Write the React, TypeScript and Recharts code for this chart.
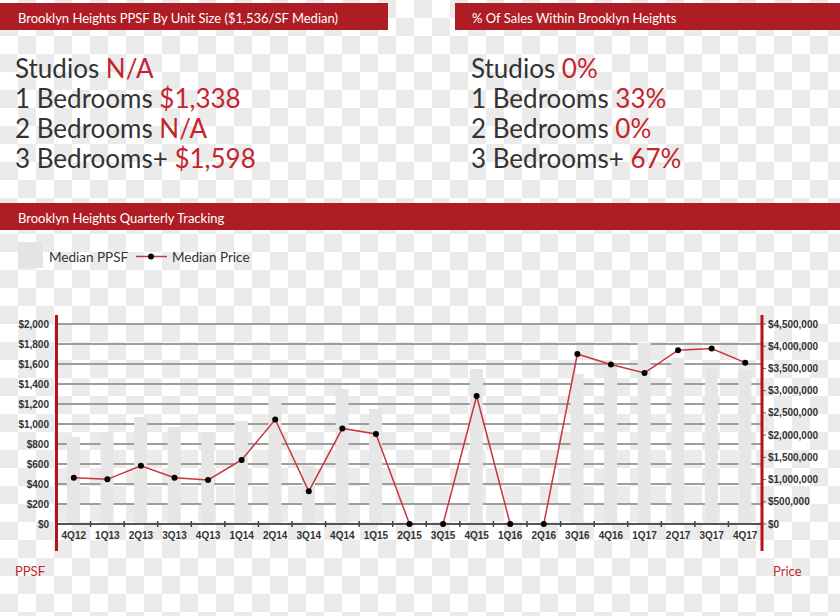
import React from "react";
import {
  ComposedChart,
  Bar,
  Line,
  XAxis,
  YAxis,
  CartesianGrid,
} from "recharts";

const quarters = [
  "4Q12", "1Q13", "2Q13", "3Q13", "4Q13", "1Q14", "2Q14", "3Q14", "4Q14", "1Q15", "2Q15",
  "3Q15", "4Q15", "1Q16", "2Q16", "3Q16", "4Q16", "1Q17", "2Q17", "3Q17", "4Q17",
];
const medianPpsf = [
  870, 920, 1070, 970, 920, 1030, 1270, 580, 1350, 1150, 0,
  0, 1550, 0, 0, 1500, 1590, 1810, 1660, 1570, 1540,
];
const medianPrice = [
  1040000, 1005000, 1310000, 1040000, 990000, 1440000, 2350000, 735000, 2150000, 2025000, 0,
  0, 2880000, 0, 0, 3825000, 3590000, 3400000, 3910000, 3950000, 3630000,
];
const ppsfTicks = [0, 200, 400, 600, 800, 1000, 1200, 1400, 1600, 1800, 2000];
const priceTicks = [0, 500000, 1000000, 1500000, 2000000, 2500000, 3000000, 3500000, 4000000, 4500000];

const unitLabels = ["Studios", "1 Bedrooms", "2 Bedrooms", "3 Bedrooms+"];
const unitPpsf = ["N/A", "$1,338", "N/A", "$1,598"];
const unitShare = ["0%", "33%", "0%", "67%"];

const headerLeft = "Brooklyn Heights PPSF By Unit Size ($1,536/SF Median)";
const headerRight = "% Of Sales Within Brooklyn Heights";
const headerChart = "Brooklyn Heights Quarterly Tracking";

const data = quarters.map((q, i) => ({ q, ppsf: medianPpsf[i], price: medianPrice[i] }));

const RED = "#ae1d24";
const TXT_RED = "#c4252c";
const DARK = "#333333";
const FONT = "Lato, 'Noto Sans', sans-serif";
const TICK_FONT = "'Liberation Sans', Arial, sans-serif";

const PLOT_LEFT = 57;
const PLOT_RIGHT = 762;
const BAND = (PLOT_RIGHT - PLOT_LEFT) / quarters.length;

const money = (v: number) => "$" + v.toLocaleString("en-US");

const XTick = (props: any) => {
  const { x, y, payload, index } = props;
  return (
    <g>
      {index > 0 && (
        <line x1={x - BAND / 2} x2={x - BAND / 2} y1={y - 3} y2={y + 3} stroke="#444" strokeWidth={1.5} />
      )}
      <text
        x={x}
        y={y + 15}
        textAnchor="middle"
        fontFamily={TICK_FONT}
        fontWeight="bold"
        fontSize={10}
        fill="#333"
      >
        {payload.value}
      </text>
    </g>
  );
};

export default function App() {
  return (
    <div
      style={{
        position: "absolute",
        left: 0,
        top: 0,
        width: 840,
        height: 616,
        overflow: "hidden",
        backgroundColor: "#ffffff",
        backgroundImage: "repeating-conic-gradient(#ebebeb 0 25%, #ffffff 0 50%)",
        backgroundSize: "36px 36px",
      }}
    >
      <svg width={840} height={616} style={{ position: "absolute", left: 0, top: 0 }}>
        <rect x={0} y={3} width={388} height={27} fill={RED} />
        <text x={18} y={22.5} fontFamily={FONT} fontSize={13} fill="#fff">
          {headerLeft}
        </text>
        <rect x={455} y={3} width={385} height={27} fill={RED} />
        <text x={472} y={22.5} fontFamily={FONT} fontSize={13} fill="#fff">
          {headerRight}
        </text>
        <rect x={0} y={203} width={840} height={27} fill={RED} />
        <text x={18} y={222.5} fontFamily={FONT} fontSize={13} fill="#fff">
          {headerChart}
        </text>

        {unitLabels.map((l, i) => (
          <text key={"l" + i} x={15} y={78.3 + i * 30} fontFamily={FONT} fontSize={26} fill={DARK}>
            {l} <tspan fill={TXT_RED}>{unitPpsf[i]}</tspan>
          </text>
        ))}
        {unitLabels.map((l, i) => (
          <text key={"r" + i} x={471} y={78.3 + i * 30} fontFamily={FONT} fontSize={26} fill={DARK}>
            {l} <tspan fill={TXT_RED}>{unitShare[i]}</tspan>
          </text>
        ))}

        <rect x={18} y={242} width={25} height={26} fill="#e4e4e4" />
        <text x={49} y={261.5} fontFamily={FONT} fontSize={13.5} fill={DARK}>
          Median PPSF
        </text>
        <line x1={136} x2={167} y1={256.5} y2={256.5} stroke="#c8353b" strokeWidth={1.5} />
        <circle cx={151} cy={256.5} r={3} fill="#000" />
        <text x={172} y={261.5} fontFamily={FONT} fontSize={13.5} fill={DARK}>
          Median Price
        </text>

        <text x={15} y={576} fontFamily={FONT} fontSize={13} fill={TXT_RED}>
          PPSF
        </text>
        <text x={773} y={576} fontFamily={FONT} fontSize={13} fill={TXT_RED}>
          Price
        </text>
      </svg>

      <div style={{ position: "absolute", left: 0, top: 0 }}>
        <ComposedChart
          width={840}
          height={616}
          data={data}
          margin={{ top: 324, right: 0, bottom: 62, left: 0 }}
        >
          <CartesianGrid
            yAxisId="left"
            vertical={false}
            stroke="#9e9e9e"
            strokeWidth={2}
          />
          <XAxis
            dataKey="q"
            height={30}
            tickSize={0}
            tickMargin={0}
            tickLine={false}
            axisLine={{ stroke: "#555", strokeWidth: 2 }}
            tick={<XTick />}
            interval={0}
          />
          <YAxis
            yAxisId="left"
            width={57}
            domain={[0, 2000]}
            ticks={ppsfTicks}
            tickFormatter={money}
            tickLine={false}
            axisLine={false}
            tickSize={0}
            tickMargin={8}
            tick={{ fontFamily: TICK_FONT, fontWeight: "bold", fontSize: 10, fill: "#333" }}
            interval={0}
          />
          <YAxis
            yAxisId="right"
            orientation="right"
            width={78}
            domain={[0, 4500000]}
            ticks={priceTicks}
            tickFormatter={money}
            tickLine={{ stroke: "#666", strokeWidth: 1 }}
            axisLine={false}
            tickSize={4}
            tickMargin={2}
            tick={{ fontFamily: TICK_FONT, fontWeight: "bold", fontSize: 10, fill: "#333" }}
            interval={0}
          />
          <Bar
            yAxisId="left"
            dataKey="ppsf"
            barSize={13}
            fill="#e6e6e6"
            isAnimationActive={false}
          />
          <Line
            yAxisId="right"
            dataKey="price"
            stroke="#c8353b"
            strokeWidth={1.5}
            dot={{ r: 3, fill: "#000", stroke: "#000", strokeWidth: 0 }}
            activeDot={false}
            isAnimationActive={false}
          />
        </ComposedChart>
      </div>

      <svg
        width={840}
        height={616}
        style={{ position: "absolute", left: 0, top: 0, pointerEvents: "none" }}
      >
        <rect x={55} y={315} width={3} height={236} fill="#b5121b" />
        <rect x={760.5} y={315} width={3} height={236} fill="#b5121b" />
      </svg>
    </div>
  );
}
